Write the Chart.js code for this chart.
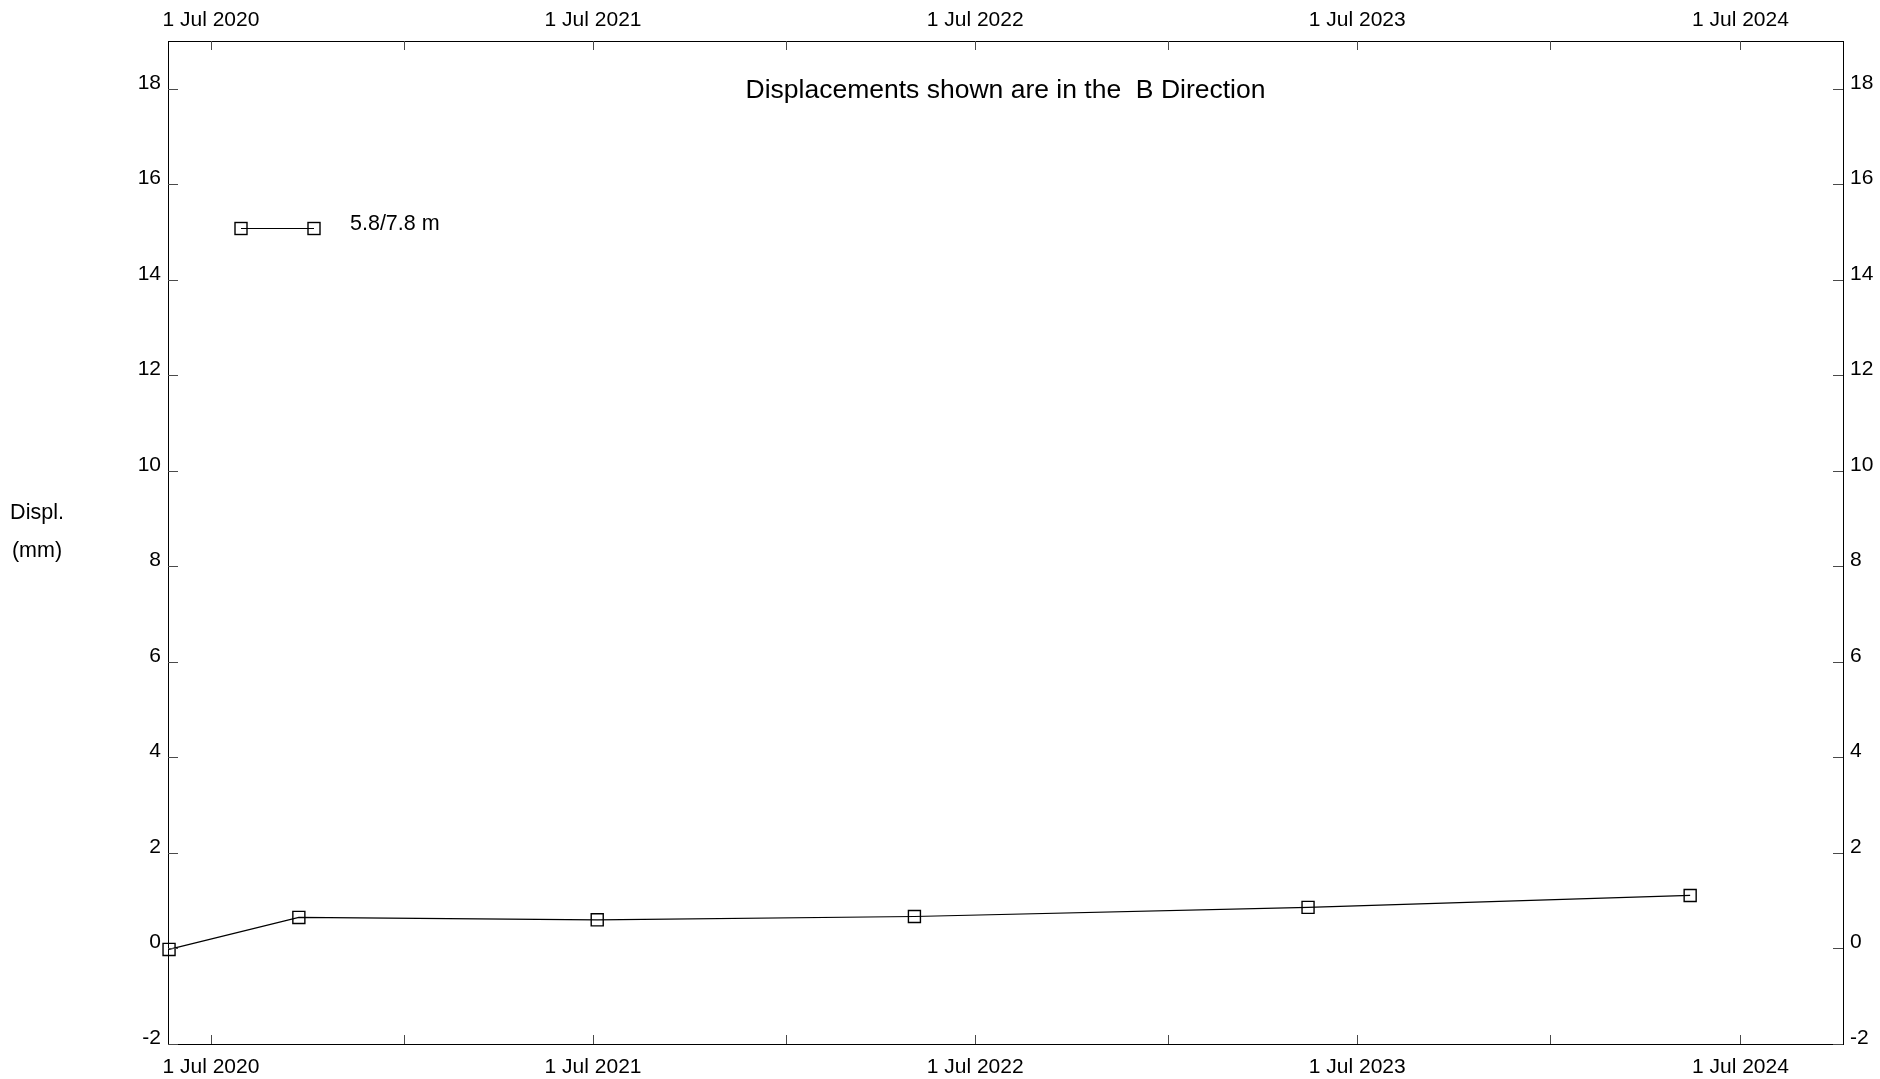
<!DOCTYPE html>
<html>
<head>
<meta charset="utf-8">
<title>Displacements - B Direction</title>
<script src="https://cdn.jsdelivr.net/npm/chart.js@4.4.1/dist/chart.umd.min.js"></script>
<style>
  html, body { margin: 0; padding: 0; background: #fff; }
  #wrap { width: 1880px; height: 1079px; }
</style>
</head>
<body>
<div id="wrap"><canvas id="displChart" width="1880" height="1079"></canvas></div>
<script>
// survey dates and displacement readings (mm)
const readingDates = ['2020-05-22', '2020-09-23', '2021-07-05', '2022-05-04', '2023-05-15', '2024-05-14'];
const displValues = [-0.02, 0.65, 0.60, 0.67, 0.86, 1.11];
const seriesLabel = '5.8/7.8 m';

// axis ticks
const majorTickDates = ['2020-07-01', '2021-07-01', '2022-07-01', '2023-07-01', '2024-07-01'];
const minorTickDates = ['2021-01-01', '2022-01-01', '2023-01-01', '2024-01-01'];
const yTickValues = [-2, 0, 2, 4, 6, 8, 10, 12, 14, 16, 18];
const xRange = ['2020-05-21', '2024-10-07'];
const yRange = [-2, 19];

const chartTitle = 'Displacements shown are in the  B Direction';
const yTitleLines = ['Displ.', '(mm)'];

const FONT = '"Liberation Sans", Arial, sans-serif';
const MONTHS = ['Jan', 'Feb', 'Mar', 'Apr', 'May', 'Jun', 'Jul', 'Aug', 'Sep', 'Oct', 'Nov', 'Dec'];

const majorMs = majorTickDates.map(d => Date.parse(d));
const allTickMs = majorMs.concat(minorTickDates.map(d => Date.parse(d))).sort((a, b) => a - b);

function fmtDate(ms) {
  const d = new Date(ms);
  return d.getUTCDate() + ' ' + MONTHS[d.getUTCMonth()] + ' ' + d.getUTCFullYear();
}

function xTicks(scale) {
  scale.ticks = allTickMs.map(v => ({ value: v }));
}
function yTicks(scale) {
  scale.ticks = yTickValues.map(v => ({ value: v }));
}
function xLabel(value) {
  return majorMs.includes(value) ? fmtDate(value) : '';
}

const baseX = {
  type: 'linear',
  min: Date.parse(xRange[0]),
  max: Date.parse(xRange[1]),
  afterBuildTicks: xTicks,
  grid: { display: true, drawOnChartArea: false, drawTicks: false },
  border: { display: true, color: '#000', width: 1 },
  ticks: { color: '#000', font: { family: FONT, size: 21 }, maxRotation: 0, autoSkip: false, callback: xLabel }
};
const baseY = {
  type: 'linear',
  min: yRange[0],
  max: yRange[1],
  afterBuildTicks: yTicks,
  grid: { display: true, drawOnChartArea: false, drawTicks: false },
  border: { display: true, color: '#000', width: 1 },
  ticks: { color: '#000', font: { family: FONT, size: 21 }, labelOffset: -6 }
};

// ticks pointing into the plot, titles and the legend sample
const decorPlugin = {
  id: 'decor',
  afterDraw(chart) {
    const ctx = chart.ctx;
    const area = chart.chartArea;
    const s = chart.scales;
    ctx.save();
    ctx.strokeStyle = '#4a4a4a';
    ctx.lineWidth = 1;
    ctx.beginPath();
    s.x.ticks.forEach(t => {
      const px = Math.round(s.x.getPixelForValue(t.value)) + 0.5;
      ctx.moveTo(px, area.bottom); ctx.lineTo(px, area.bottom - 9);
      ctx.moveTo(px, area.top); ctx.lineTo(px, area.top + 9);
    });
    s.y.ticks.forEach(t => {
      const py = Math.round(s.y.getPixelForValue(t.value)) + 0.5;
      ctx.moveTo(area.left, py); ctx.lineTo(area.left + 10, py);
      ctx.moveTo(area.right, py); ctx.lineTo(area.right - 10, py);
    });
    ctx.stroke();

    ctx.fillStyle = '#000';
    ctx.textAlign = 'center';
    ctx.textBaseline = 'middle';
    ctx.font = '26.5px ' + FONT;
    ctx.fillText(chartTitle, (area.left + area.right) / 2, area.top + 50);

    ctx.font = '21.5px ' + FONT;
    ctx.fillText(yTitleLines[0], 37, 513);
    ctx.fillText(yTitleLines[1], 37, 551);

    // legend sample
    const ly = area.top + 187.5;
    const lx1 = area.left + 73, lx2 = area.left + 146;
    ctx.strokeStyle = '#000';
    ctx.lineWidth = 1.2;
    ctx.beginPath();
    ctx.moveTo(lx1, ly); ctx.lineTo(lx2, ly);
    ctx.stroke();
    ctx.lineWidth = 1.4;
    [lx1, lx2].forEach(x => ctx.strokeRect(x - 6, ly - 6, 12, 12));
    ctx.textAlign = 'left';
    ctx.fillText(chart.data.datasets[0].label, area.left + 182, ly - 4);
    ctx.restore();
  }
};

document.addEventListener('DOMContentLoaded', () => {
  const ctx = document.getElementById('displChart').getContext('2d');

  new Chart(ctx, {
    type: 'line',
    data: {
      datasets: [{
        label: seriesLabel,
        data: readingDates.map((d, i) => ({ x: Date.parse(d), y: displValues[i] })),
        borderColor: '#000',
        borderWidth: 1.2,
        backgroundColor: 'rgba(0,0,0,0)',
        pointStyle: 'rect',
        pointRadius: 8.5,
        pointBorderWidth: 1.4,
        pointBorderColor: '#000',
        pointBackgroundColor: 'rgba(0,0,0,0)',
        tension: 0,
        fill: false,
        clip: false
      }]
    },
    options: {
      responsive: false,
      animation: false,
      devicePixelRatio: 1,
      layout: { padding: 0 },
      plugins: { legend: { display: false }, tooltip: { enabled: false }, title: { display: false } },
      scales: {
        x: Object.assign({}, baseX, { position: 'bottom', ticks: Object.assign({}, baseX.ticks, { padding: 11 }),
          afterFit: sc => { sc.height = 35; } }),
        x2: Object.assign({}, baseX, { position: 'top', ticks: Object.assign({}, baseX.ticks, { padding: 8 }),
          afterFit: sc => { sc.height = 41; } }),
        y: Object.assign({}, baseY, { position: 'left', ticks: Object.assign({}, baseY.ticks, { padding: 7 }),
          afterFit: sc => { sc.width = 168; } }),
        y2: Object.assign({}, baseY, { position: 'right', ticks: Object.assign({}, baseY.ticks, { padding: 7 }),
          afterFit: sc => { sc.width = 37; } })
      }
    },
    plugins: [decorPlugin]
  });
});
</script>
</body>
</html>
